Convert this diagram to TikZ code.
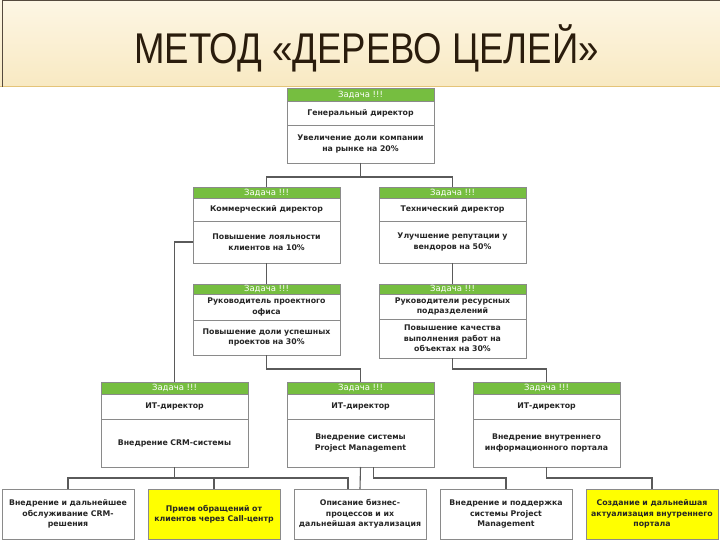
\documentclass[tikz,border=0pt]{standalone}
\usepackage{fontspec}
\setmainfont{DejaVu Sans}
\newfontfamily\titlefont{Liberation Sans}
\usetikzlibrary{positioning}
\definecolor{taskGreen}{RGB}{118,190,64}
\definecolor{boxGray}{RGB}{138,138,138}
\definecolor{lineGray}{RGB}{90,90,90}
\definecolor{titleBrown}{RGB}{42,28,12}
\definecolor{sandTop}{RGB}{253,246,228}
\definecolor{sandBot}{RGB}{248,233,194}
\definecolor{goldLine}{RGB}{228,196,120}
\definecolor{markYellow}{RGB}{255,255,0}

\begin{document}
\begin{tikzpicture}[x=1pt,y=-1pt,
    taskHd/.style={draw=boxGray,fill=taskGreen,text=white,font=\fontsize{8.5}{9}\selectfont,
        minimum width=147,minimum height=11,inner sep=0,outer sep=0},
    taskTxt/.style={draw=boxGray,fill=white,text=black!85,font=\fontsize{7.8}{10.5}\selectfont\bfseries,
        align=center,text width=143,minimum width=147,inner sep=0,outer sep=0},
    leafTxt/.style={taskTxt,text width=128,minimum width=132,minimum height=50},
    treeLn/.style={draw=lineGray,line width=1.1pt},
]
\fill[white] (0,0) rectangle (720,540);
\useasboundingbox (0,0) rectangle (720,540);
% title band
\shade[top color=sandTop,bottom color=sandBot] (0,0) rectangle (720,87);
\draw[goldLine,line width=1.5pt] (0,86.5) -- (720,86.5);
\draw[titleBrown!80,line width=1pt] (2,87) -- (2,1) -- (720,1);
\node[anchor=base,text=titleBrown,font=\titlefont\fontsize{43}{43}\selectfont] (title) at (366.5,64)
    {\scalebox{0.85}[1]{МЕТОД «ДЕРЕВО ЦЕЛЕЙ»}};
% level 1
\node[taskHd,minimum height=13] (gdHd) at (360.5,94.5) {Задача !!!};
\node[taskTxt,minimum height=24,below=0pt of gdHd] (gdRole) {Генеральный директор};
\node[taskTxt,minimum height=38,below=0pt of gdRole] (gdGoal) {Увеличение доли компании\\на рынке на 20\%};
% level 2
\node[taskHd] (comHd) at (266.5,192.5) {Задача !!!};
\node[taskTxt,minimum height=23,below=0pt of comHd] (comRole) {Коммерческий директор};
\node[taskTxt,minimum height=42,below=0pt of comRole] (comGoal) {Повышение лояльности\\клиентов на 10\%};
\node[taskHd] (techHd) at (452.5,192.5) {Задача !!!};
\node[taskTxt,minimum height=23,below=0pt of techHd] (techRole) {Технический директор};
\node[taskTxt,minimum height=42,below=0pt of techRole] (techGoal) {Улучшение репутации у\\вендоров на 50\%};
% level 3
\node[taskHd,minimum height=10] (pmoHd) at (266.5,289) {Задача !!!};
\node[taskTxt,minimum height=26,below=0pt of pmoHd] (pmoRole) {Руководитель проектного\\офиса};
\node[taskTxt,minimum height=35,below=0pt of pmoRole] (pmoGoal) {Повышение доли успешных\\проектов на 30\%};
\node[taskHd,minimum height=10] (resHd) at (452.5,289) {Задача !!!};
\node[taskTxt,minimum height=25,below=0pt of resHd] (resRole) {Руководители ресурсных\\подразделений};
\node[taskTxt,minimum height=39,below=0pt of resRole] (resGoal) {Повышение качества\\выполнения работ на\\объектах на 30\%};
% level 4 (IT)
\node[taskHd,minimum height=12] (it1Hd) at (174.5,388) {Задача !!!};
\node[taskTxt,minimum height=25,below=0pt of it1Hd] (it1Role) {ИТ-директор};
\node[taskTxt,minimum height=48,below=0pt of it1Role] (it1Goal) {Внедрение CRM-системы};
\node[taskHd,minimum height=12] (it2Hd) at (360.5,388) {Задача !!!};
\node[taskTxt,minimum height=25,below=0pt of it2Hd] (it2Role) {ИТ-директор};
\node[taskTxt,minimum height=48,below=0pt of it2Role] (it2Goal) {Внедрение системы\\Project Management};
\node[taskHd,minimum height=12] (it3Hd) at (546.5,388) {Задача !!!};
\node[taskTxt,minimum height=25,below=0pt of it3Hd] (it3Role) {ИТ-директор};
\node[taskTxt,minimum height=48,below=0pt of it3Role] (it3Goal) {Внедрение внутреннего\\информационного портала};
% level 5
\node[leafTxt] (crmLeaf) at (68,514) {Внедрение и дальнейшее\\обслуживание CRM-\\решения};
\node[leafTxt,fill=markYellow] (callLeaf) at (214,514) {Прием обращений от\\клиентов через Call-центр};
\node[leafTxt] (bpLeaf) at (360,514) {Описание бизнес-\\процессов и их\\дальнейшая актуализация};
\node[leafTxt] (pmLeaf) at (506,514) {Внедрение и поддержка\\системы Project\\Management};
\node[leafTxt,fill=markYellow] (portalLeaf) at (652,514) {Создание и дальнейшая\\актуализация внутреннего\\портала};
% connectors
\draw[treeLn] (gdGoal.south) -- ++(0,14) -| (comHd.north);
\draw[treeLn] (gdGoal.south) -- ++(0,14) -| (techHd.north);
\draw[treeLn] (comGoal.south) -- (pmoHd.north);
\draw[treeLn] (techGoal.south) -- (resHd.north);
\draw[treeLn] (comGoal.west) -| (it1Hd.north);
\draw[treeLn] (pmoGoal.south) -- ++(0,14) -| (it2Hd.north);
\draw[treeLn] (resGoal.south) -- ++(0,11) -| (it3Hd.north);
\draw[treeLn] (it1Goal.south) -- ++(0,11) -| (crmLeaf.north);
\draw[treeLn] (it1Goal.south) -- ++(0,11) -| (callLeaf.north);
\draw[treeLn] (it1Goal.south) -- ++(0,11) -| ([xshift=-12pt]bpLeaf.north);
\draw[treeLn] (it2Goal.south) -- (bpLeaf.north);
\draw[treeLn] ([xshift=13pt]it2Goal.south) -- ++(0,11) -| (pmLeaf.north);
\draw[treeLn] (it3Goal.south) -- ++(0,11) -| (portalLeaf.north);
\end{tikzpicture}
\end{document}
